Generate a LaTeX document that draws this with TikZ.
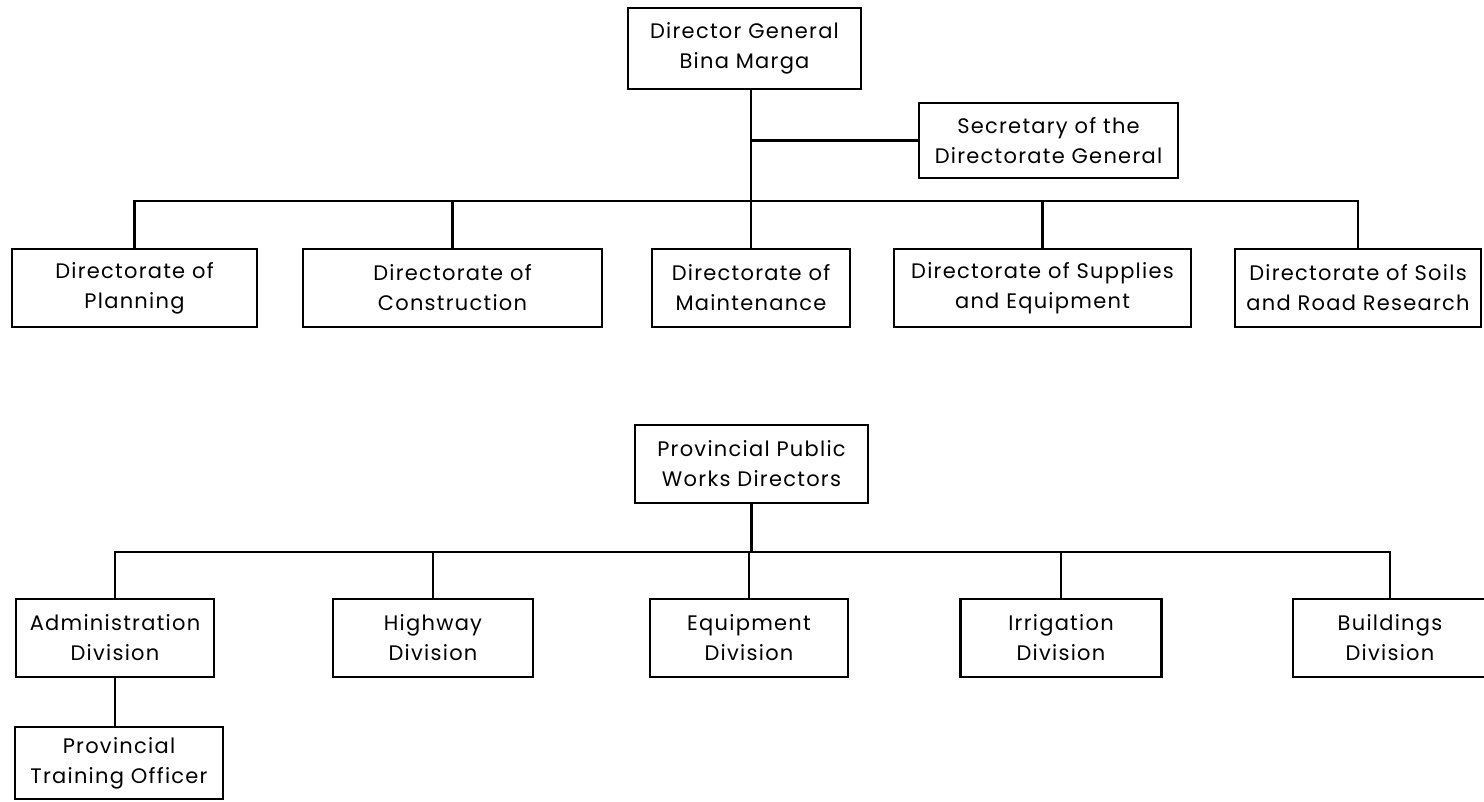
\documentclass[tikz,border=0pt]{standalone}
\usepackage{fontspec}
\newfontfamily\chartfont[LetterSpace=6]{Poppins}
\begin{document}
\begin{tikzpicture}[x=1pt,y=-1pt,
  unit/.style={draw=black, line width=2.2pt, rectangle, align=center,
    inner sep=0pt, minimum height=78pt,
    font=\chartfont\fontsize{21}{30}\selectfont},
  link/.style={draw=black, line width=2.6pt}]
\useasboundingbox (0,0) rectangle (1484,801);

% --- central directorate ---
\node[unit, minimum width=233pt, minimum height=81pt] (dg) at (744.5,48.5) {Director General\\Bina Marga};
\node[unit, minimum width=259pt, minimum height=75pt] (sec) at (1048.5,140.5) {Secretary of the\\Directorate General};

\node[unit, minimum width=245pt] (plan)  at (134.5,288) {Directorate of\\Planning};
\node[unit, minimum width=299pt] (cons)  at (452.5,288) {Directorate of\\Construction};
\node[unit, minimum width=198pt] (maint) at (751,288)   {Directorate of\\Maintenance};
\node[unit, minimum width=297pt] (supp)  at (1042.5,288) {Directorate of Supplies\\and Equipment};
\node[unit, minimum width=246pt] (soils) at (1358,288)  {Directorate of Soils\\and Road Research};

\coordinate (busA) at (0,201);
\draw[link] (dg.south -| maint.north) -- (maint.north);
\draw[link] (sec.west) -- (sec.west -| maint.north);
\draw[link] (plan.north) -- (plan.north |- busA) -- (soils.north |- busA) -- (soils.north);
\draw[link] (cons.north) -- (cons.north |- busA);
\draw[link] (supp.north) -- (supp.north |- busA);

% --- provincial public works ---
\node[unit, minimum width=233pt] (ppwd) at (751.5,464) {Provincial Public\\Works Directors};

\node[unit, minimum width=198pt] (admin) at (115,638)  {Administration\\Division};
\node[unit, minimum width=200pt] (hwy)   at (433,638)  {Highway\\Division};
\node[unit, minimum width=198pt] (equip) at (749,638)  {Equipment\\Division};
\node[unit, minimum width=201pt] (irr)   at (1061,638) {Irrigation\\Division};
\node[unit, minimum width=194pt] (bldg)  at (1390,638) {Buildings\\Division};

\node[unit, minimum width=208pt, minimum height=72pt] (pto) at (119,763) {Provincial\\Training Officer};

\coordinate (busB) at (0,552);
\draw[link] (ppwd.south) -- (ppwd.south |- busB);
\draw[link] (admin.north) -- (admin.north |- busB) -- (bldg.north |- busB) -- (bldg.north);
\draw[link] (hwy.north) -- (hwy.north |- busB);
\draw[link] (equip.north) -- (equip.north |- busB);
\draw[link] (irr.north) -- (irr.north |- busB);
\draw[link] (admin.south) -- (admin.south |- pto.north);
\end{tikzpicture}
\end{document}
